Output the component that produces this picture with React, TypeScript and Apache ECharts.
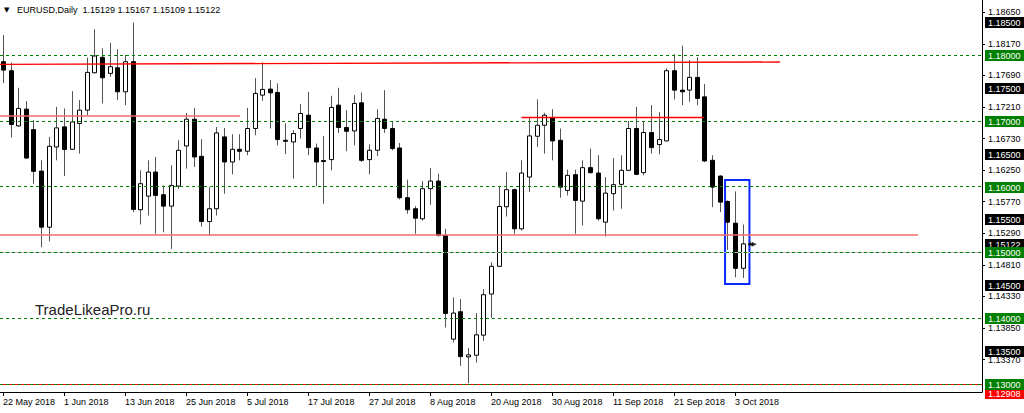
import React, { useEffect, useRef } from "react";
import * as echarts from "echarts";

// Daily bars, 22 May 2018 (bar 0) .. 5 Oct 2018 (bar 98)
const opens = [
  1.17898, 1.17761, 1.16922, 1.17177, 1.16867, 1.16236, 1.15383, 1.16602, 1.16907, 1.16567,
  1.16959, 1.17162, 1.1773, 1.17965, 1.17721, 1.17806, 1.17441, 1.17898, 1.15648, 1.15855,
  1.16221, 1.15877, 1.15703, 1.16008, 1.16617, 1.17024, 1.1646, 1.15469, 1.15663, 1.16755,
  1.16374, 1.16567, 1.16537, 1.16883, 1.1739, 1.17482, 1.17431, 1.16704, 1.16678, 1.16883,
  1.17085, 1.16587, 1.16395, 1.1641, 1.17238, 1.16898, 1.16846, 1.17273, 1.1641, 1.16552,
  1.17024, 1.16883, 1.16587, 1.15831, 1.15663, 1.15511, 1.15968, 1.16084, 1.15256, 1.13681,
  1.14098, 1.13412, 1.13437, 1.13742, 1.14367, 1.14788, 1.15694, 1.15953, 1.15358, 1.16145,
  1.16765, 1.16933, 1.17044, 1.16704, 1.15942, 1.16181, 1.15779, 1.16288, 1.16206, 1.15459,
  1.15892, 1.16034, 1.16247, 1.16883, 1.16212, 1.16822, 1.16639, 1.16694, 1.17761, 1.17466,
  1.17466, 1.1766, 1.17364, 1.16399, 1.1616, 1.15774, 1.15444, 1.14758, 1.15129,
];
const highs = [
  1.18305, 1.17883, 1.17502, 1.17299, 1.17009, 1.16399, 1.16755, 1.17212, 1.17188, 1.17451,
  1.17314, 1.17959, 1.18392, 1.18102, 1.18188, 1.18087, 1.18, 1.18492, 1.16247, 1.16399,
  1.1645, 1.16018, 1.16323, 1.16704, 1.1712, 1.17197, 1.16719, 1.15992, 1.16907, 1.16892,
  1.16796, 1.16796, 1.17197, 1.17649, 1.17889, 1.17619, 1.17569, 1.16959, 1.16857, 1.17253,
  1.17441, 1.16654, 1.1677, 1.1738, 1.17502, 1.17162, 1.1739, 1.17431, 1.16643, 1.17177,
  1.17466, 1.16983, 1.16663, 1.16105, 1.15703, 1.16084, 1.16282, 1.16197, 1.15358, 1.14316,
  1.14291, 1.13544, 1.14078, 1.14444, 1.14849, 1.16003, 1.16221, 1.15968, 1.16399, 1.17059,
  1.17325, 1.1712, 1.17177, 1.16883, 1.16258, 1.16258, 1.16399, 1.16578, 1.16476, 1.16145,
  1.16434, 1.16476, 1.16998, 1.17212, 1.16983, 1.17238, 1.17136, 1.17797, 1.18015, 1.18142,
  1.17924, 1.17965, 1.17558, 1.16476, 1.16171, 1.1579, 1.15927, 1.15424, 1.15167,
];
const lows = [
  1.17573, 1.16745, 1.16907, 1.16425, 1.16044, 1.15078, 1.15169, 1.16399, 1.1616, 1.1656,
  1.16502, 1.17085, 1.17721, 1.17264, 1.17669, 1.17314, 1.17238, 1.15611, 1.15424, 1.15561,
  1.15282, 1.15306, 1.15053, 1.15968, 1.16273, 1.16297, 1.15393, 1.15256, 1.15561, 1.15892,
  1.16186, 1.16399, 1.16476, 1.1678, 1.17303, 1.16883, 1.16628, 1.16491, 1.1612, 1.1673,
  1.16476, 1.16008, 1.15739, 1.16247, 1.16816, 1.16537, 1.16628, 1.16374, 1.16186, 1.16465,
  1.16816, 1.16552, 1.15805, 1.15587, 1.15282, 1.15485, 1.15724, 1.15241, 1.13858, 1.1363,
  1.13274, 1.1301, 1.13325, 1.13655, 1.14001, 1.1478, 1.15546, 1.15282, 1.15332, 1.15916,
  1.16602, 1.16502, 1.16399, 1.15831, 1.15866, 1.15282, 1.15409, 1.16197, 1.15485, 1.15241,
  1.15637, 1.15663, 1.16236, 1.16175, 1.16171, 1.16502, 1.16491, 1.16689, 1.17325, 1.17238,
  1.17288, 1.17238, 1.16374, 1.15687, 1.15611, 1.15038, 1.1462, 1.14611, 1.15109,
];
const closes = [
  1.17771, 1.16944, 1.17188, 1.16434, 1.16232, 1.15383, 1.16613, 1.16892, 1.16563, 1.16983,
  1.17162, 1.17736, 1.17985, 1.17654, 1.17822, 1.17441, 1.17898, 1.15652, 1.16044, 1.16221,
  1.15866, 1.15703, 1.16018, 1.16552, 1.17024, 1.1645, 1.15469, 1.15663, 1.16816, 1.16374,
  1.16567, 1.16537, 1.16883, 1.17416, 1.17477, 1.17425, 1.16715, 1.167, 1.16806, 1.17111,
  1.16593, 1.16374, 1.16389, 1.17203, 1.16898, 1.16841, 1.17264, 1.16399, 1.16552, 1.17035,
  1.16883, 1.16578, 1.15831, 1.15648, 1.1552, 1.15968, 1.16084, 1.15256, 1.14072, 1.14078,
  1.13416, 1.13442, 1.13747, 1.14357, 1.14788, 1.15698, 1.15953, 1.15358, 1.16206, 1.1677,
  1.16933, 1.17085, 1.16694, 1.15992, 1.16171, 1.1579, 1.16288, 1.16212, 1.15511, 1.15901,
  1.16029, 1.16247, 1.16883, 1.16186, 1.16822, 1.16593, 1.16715, 1.17761, 1.17466, 1.17441,
  1.1766, 1.1734, 1.16389, 1.15992, 1.15764, 1.15459, 1.14758, 1.1513, 1.15122,
];

const tickBars = [0, 8, 16, 24, 32, 40, 48, 56, 64, 72, 80, 88, 96];
const tickLabels = [
  "22 May 2018", "1 Jun 2018", "13 Jun 2018", "25 Jun 2018", "5 Jul 2018", "17 Jul 2018",
  "27 Jul 2018", "8 Aug 2018", "20 Aug 2018", "30 Aug 2018", "11 Sep 2018", "21 Sep 2018", "3 Oct 2018",
];
const priceTicks = [1.1865, 1.1817, 1.1769, 1.1721, 1.1673, 1.1625, 1.1577, 1.1529, 1.1481, 1.1433, 1.1385, 1.1337];
const greenLevels = [1.18, 1.17, 1.16, 1.15, 1.14, 1.13];
const blackLevels = [1.185, 1.175, 1.165, 1.155, 1.145, 1.135];
const currentPrice = 1.15122;
const lowLevel = 1.12908;

// trend / level lines: [startBar, startPrice, endBar, endPrice]
const redLines = [
  [-0.39, 1.17859, 101.9, 1.17894],
  [68.0, 1.17047, 91.9, 1.17047],
];
const pinkLines = [
  [-0.39, 1.17073, 31.1, 1.17073],
  [-0.39, 1.15264, 120.0, 1.15264],
];
const boxBars = [94.7, 97.9];
const boxPrices = [1.161, 1.1452];

const symbolName = "EURUSD,Daily";
const headerValues = "1.15129 1.15167 1.15109 1.15122";
const watermark = "TradeLikeaPro.ru";

const X_MIN = -0.39;
const X_MAX = 128.4;
const Y_MIN = 1.12878;
const Y_MAX = 1.18836;
const FONT = "'Liberation Sans', Arial, sans-serif";

export default function App() {
  const ref = useRef<HTMLDivElement>(null);
  useEffect(() => {
    if (!ref.current) return;
    const chart = echarts.init(ref.current, undefined, { renderer: "svg" });
    const data = opens.map((o, i) => [i, o, closes[i], lows[i], highs[i]]);

    // price-label boxes on the right scale (drawn in this order, later on top)
    const labelValues: number[] = [...blackLevels, currentPrice, lowLevel, ...greenLevels];
    const labelColors: string[] = [
      ...blackLevels.map(() => "#000"),
      "#000",
      "#ff0000",
      ...greenLevels.map(() => "#008000"),
    ];
    const labelShift: number[] = labelValues.map((v) => (v === lowLevel ? 3 : 0));

    const markLineData: any[] = [];
    redLines.forEach((t) =>
      markLineData.push([
        { coord: [t[0], t[1]], lineStyle: { color: "#ff0000", width: 1.3, type: "solid" } },
        { coord: [t[2], t[3]] },
      ])
    );
    pinkLines.forEach((t) =>
      markLineData.push([
        { coord: [t[0], t[1]], lineStyle: { color: "#f26a6a", width: 1.6, type: "solid" } },
        { coord: [t[2], t[3]] },
      ])
    );
    markLineData.push({ yAxis: currentPrice, lineStyle: { color: "#c0c0c0", width: 1, type: "solid" } });
    markLineData.push({ yAxis: lowLevel, lineStyle: { color: "#ff0000", width: 1, type: "solid" } });
    greenLevels.forEach((v) =>
      markLineData.push({ yAxis: v, lineStyle: { color: "#008000", width: 1, type: [3, 3] } })
    );

    chart.setOption({
      animation: false,
      backgroundColor: "#fff",
      grid: { left: 0, right: 42, top: 0, bottom: 21 },
      xAxis: {
        type: "value",
        min: X_MIN,
        max: X_MAX,
        splitLine: { show: false },
        axisLine: { show: true, onZero: false, lineStyle: { color: "#000", width: 1 } },
        axisTick: { show: true, customValues: tickBars, length: 4, lineStyle: { color: "#000" } },
        axisLabel: {
          customValues: tickBars,
          formatter: (v: number) => tickLabels[tickBars.indexOf(Math.round(v))] ?? "",
          align: "left",
          margin: 5,
          color: "#000",
          fontSize: 9,
          fontFamily: FONT,
        },
      },
      yAxis: {
        type: "value",
        position: "right",
        min: Y_MIN,
        max: Y_MAX,
        splitLine: { show: false },
        axisLine: { show: true, onZero: false, lineStyle: { color: "#000", width: 1 } },
        axisTick: { show: true, customValues: priceTicks, length: 3, lineStyle: { color: "#000" } },
        axisLabel: {
          customValues: priceTicks,
          formatter: (v: number) => v.toFixed(5),
          margin: 6,
          color: "#000",
          fontSize: 9,
          fontFamily: FONT,
        },
      },
      graphic: [
        { type: "text", left: 4, top: 6, style: { text: "▼", fontSize: 7, fill: "#000", fontFamily: "'DejaVu Sans', sans-serif" } },
        { type: "text", left: 17, top: 5, style: { text: symbolName + "  " + headerValues, fontSize: 9, fill: "#000", fontFamily: FONT } },
        { type: "text", left: 35, top: 302, style: { text: watermark, fontSize: 15, fill: "#222", fontFamily: FONT } },
      ],
      series: [
        {
          type: "custom",
          data,
          encode: { x: 0, y: [1, 2, 3, 4] },
          renderItem: (params: any, api: any) => {
            const i = api.value(0);
            const o = api.value(1);
            const c = api.value(2);
            const l = api.value(3);
            const h = api.value(4);
            const po = api.coord([i, o]);
            const pc = api.coord([i, c]);
            const pl = api.coord([i, l]);
            const ph = api.coord([i, h]);
            const x = Math.round(po[0]);
            const bull = c > o;
            const top = Math.min(po[1], pc[1]);
            const bot = Math.max(po[1], pc[1]);
            return {
              type: "group",
              children: [
                { type: "line", shape: { x1: x + 0.5, y1: ph[1], x2: x + 0.5, y2: pl[1] }, style: { stroke: "#555", lineWidth: 1 } },
                {
                  type: "rect",
                  shape: { x: x - 1.5, y: top, width: 4, height: Math.max(bot - top, 1) },
                  style: { fill: bull ? "#fff" : "#000", stroke: "#000", lineWidth: 1 },
                },
              ],
            };
          },
          markLine: { silent: true, symbol: ["none", "none"], animation: false, label: { show: false }, data: markLineData },
          markArea: {
            silent: true,
            itemStyle: { color: "rgba(0,0,0,0)", borderColor: "#0a28ff", borderWidth: 2 },
            data: [[{ coord: [boxBars[0], boxPrices[0]] }, { coord: [boxBars[1], boxPrices[1]] }]],
          },
        },
        {
          type: "scatter",
          silent: true,
          data: [[opens.length - 1, currentPrice]],
          symbol: "triangle",
          symbolRotate: -90,
          symbolSize: 5,
          symbolOffset: [4, 0],
          itemStyle: { color: "#000" },
        },
        {
          type: "custom",
          silent: true,
          clip: false,
          data: labelValues.map((v) => [X_MAX, v]),
          encode: { x: 0, y: 1 },
          renderItem: (params: any, api: any) => {
            const v = api.value(1);
            const p = api.coord([api.value(0), v]);
            const color = labelColors[params.dataIndex];
            const cy = Math.round(p[1]) + labelShift[params.dataIndex];
            return {
              type: "group",
              children: [
                { type: "rect", shape: { x: p[0] + 3, y: cy - 5, width: 40, height: 11 }, style: { fill: color } },
                {
                  type: "text",
                  x: p[0] + 6,
                  y: cy + 0.5,
                  style: { text: v.toFixed(5), fill: "#fff", fontSize: 9, fontFamily: FONT, verticalAlign: "middle", align: "left" },
                },
              ],
            };
          },
        },
      ],
    });
    return () => chart.dispose();
  }, []);
  return <div ref={ref} style={{ position: "fixed", left: 0, top: 0, width: 1024, height: 413, background: "#fff" }} />;
}
